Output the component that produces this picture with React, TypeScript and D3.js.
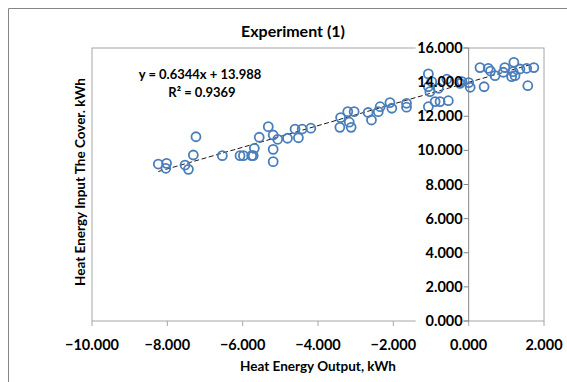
import React from "react";
import * as d3 from "d3";

const xValues = [
  -8.24, -8.02, -8.04, -7.53, -7.44, -7.31, -7.24, -6.54, -6.07, -5.98, -5.76, -5.69, -5.72,
  -5.56, -5.32, -5.19, -5.19, -5.19, -5.07, -4.81, -4.61, -4.52, -4.42, -4.19, -3.40, -3.42,
  -3.21, -3.04, -3.17, -3.12, -2.67, -2.58, -2.35, -2.40, -2.09, -2.04, -1.65, -1.65, -1.07,
  -1.07, -1.03, -0.98, -1.07, -0.89, -0.76, -0.54, -0.58, -0.80, -0.23, 0.0, -0.18, 0.04,
  0.30, 0.41, 0.52, 0.58, 0.70, 0.96, 0.92, 1.20, 1.18, 1.23, 1.14, 1.36, 1.54, 1.73, 1.57,
];
const yValues = [
  9.2, 9.24, 8.95, 9.14, 8.89, 9.73, 10.8, 9.69, 9.69, 9.69, 9.69, 10.12, 9.69,
  10.77, 11.39, 9.34, 10.06, 10.9, 10.65, 10.71, 11.25, 10.74, 11.25, 11.3, 11.92, 11.35,
  12.27, 12.27, 11.65, 11.35, 12.22, 11.78, 12.56, 12.27, 12.8, 12.47, 12.76, 12.53, 14.48,
  13.73, 13.44, 14.03, 12.56, 12.86, 12.86, 12.91, 14.17, 13.64, 13.93, 13.97, 14.03, 13.7,
  14.85, 13.73, 14.81, 14.65, 14.38, 14.85, 14.58, 15.16, 14.61, 14.38, 14.32, 14.77, 14.81, 14.85, 13.79,
];
const xTicks = [-10, -8, -6, -4, -2, 0, 2];
const yTicks = [0, 2, 4, 6, 8, 10, 12, 14, 16];
const slope = 0.6344;
const intercept = 13.988;
const titleText = "Experiment (1)";
const xTitle = "Heat Energy Output, kWh";
const yTitle = "Heat Energy Input The Cover. kWh";
const eqText = "y = 0.6344x + 13.988";
const r2Text = "R\u00b2 = 0.9369";

export default function App() {
  const W = 567, H = 382;
  const x = d3.scaleLinear().domain([-10, 2]).range([92, 544]);
  const y = d3.scaleLinear().domain([0, 16]).range([321, 48]);
  const fmt = d3.format(".3f");
  const font = "Lato, 'Open Sans', sans-serif";
  const xMin = d3.min(xValues)!;
  const xMax = d3.max(xValues)!;
  const trend = d3.line<number>().x((v) => x(v)).y((v) => y(slope * v + intercept));
  const axisColor = "#a6a6a6";
  return (
    <svg width={W} height={H} style={{ position: "absolute", left: 0, top: 0 }} fontFamily={font}>
      <rect x={0} y={0} width={W} height={H} fill="white" />
      <line x1={8.5} y1={8.5} x2={W} y2={8.5} stroke="#868686" />
      <line x1={8.5} y1={8.5} x2={8.5} y2={H} stroke="#868686" />
      <text x={293} y={37} textAnchor="middle" fontWeight="bold" fontSize={16}>{titleText}</text>
      {/* plot box */}
      <rect x={x(-10)} y={y(16)} width={x(2) - x(-10)} height={y(0) - y(16)} fill="none" stroke={axisColor} />
      {/* x ticks */}
      {xTicks.map((t) => (
        <g key={"xt" + t}>
          <line x1={x(t)} x2={x(t)} y1={y(0)} y2={y(0) + 5} stroke={axisColor} />
          <text x={x(t)} y={y(0) + 29} textAnchor="middle" fontWeight="bold" fontSize={14.5}>{fmt(t)}</text>
        </g>
      ))}
      {/* y axis at x=0 */}
      <line x1={x(0)} x2={x(0)} y1={y(0)} y2={y(16)} stroke="#868686" />
      {yTicks.map((t) => (
        <g key={"yt" + t}>
          <line x1={x(0) - 5} x2={x(0)} y1={y(t)} y2={y(t)} stroke="#868686" />
          <rect x={x(0) - 53} y={y(t) - 7} width={47} height={14} fill="white" />
        </g>
      ))}
      {/* trendline */}
      <path d={trend([xMin, xMax]) || ""} fill="none" stroke="black" strokeWidth={0.9} strokeDasharray="5,2.5" />
      {/* points */}
      {xValues.map((v, i) => (
        <circle key={i} cx={x(v)} cy={y(yValues[i])} r={4.5} fill="none" stroke="#4a7ebb" strokeWidth={1.8} />
      ))}
      {yTicks.map((t) => (
        <text key={"yl" + t} x={x(0) - 6} y={y(t) + 5} textAnchor="end" fontWeight="bold" fontSize={14.5}>{fmt(t)}</text>
      ))}
      <text x={200} y={79} textAnchor="middle" fontWeight="bold" fontSize={13}>{eqText}</text>
      <text x={202} y={97} textAnchor="middle" fontWeight="bold" fontSize={13}>{r2Text}</text>
      <text x={318} y={371} textAnchor="middle" fontWeight="bold" fontSize={13.5}>{xTitle}</text>
      <text transform={`translate(85,182) rotate(-90)`} textAnchor="middle" fontWeight="bold" fontSize={13.5}>{yTitle}</text>
    </svg>
  );
}
